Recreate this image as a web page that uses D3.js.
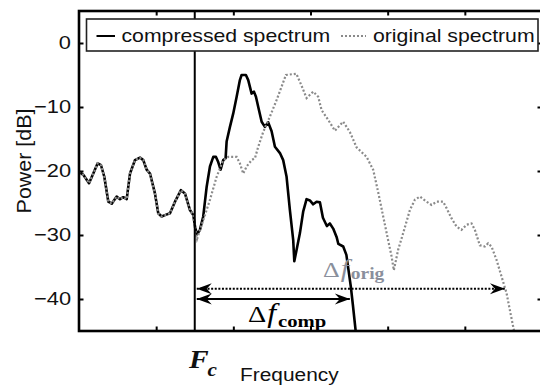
<!DOCTYPE html>
<html>
<head>
<meta charset="utf-8">
<script src="https://cdn.jsdelivr.net/npm/d3@7"></script>
<style>
  html, body { margin: 0; padding: 0; background: #fff; }
  svg { display: block; }
</style>
</head>
<body>
<svg id="chart" width="540" height="385"></svg>
<script>
// Spectrum below the carrier: identical for both spectra
const lowBandFreq  = [0.000, 0.056, 0.130, 0.185, 0.242, 0.285, 0.328, 0.380, 0.424, 0.488, 0.531, 0.574, 0.618,
                      0.661, 0.725, 0.790, 0.833, 0.877, 0.920, 0.984, 1.027, 1.071, 1.114, 1.179, 1.244, 1.321,
                      1.373, 1.438, 1.481];
const lowBandPower = [-20.1, -20.6, -21.9, -20.4, -18.8, -19.1, -20.9, -24.8, -25.1, -24.0, -24.4, -24.1, -24.4,
                      -20.4, -18.3, -17.9, -18.3, -19.8, -20.4, -23.5, -26.6, -27.1, -26.9, -26.6, -24.8, -23.0,
                      -23.5, -26.1, -26.9];

// Compressed spectrum above the carrier
const compFreq  = [1.505, 1.530, 1.567, 1.610, 1.654, 1.697, 1.740, 1.775, 1.804, 1.835, 1.869, 1.900, 1.913,
                   1.956, 1.999, 2.043, 2.085, 2.107, 2.163, 2.193, 2.237, 2.267, 2.293, 2.323, 2.367, 2.409,
                   2.452, 2.496, 2.539, 2.604, 2.646, 2.690, 2.733, 2.776, 2.790, 2.820, 2.863, 2.906, 2.949,
                   2.992, 3.035, 3.079, 3.122, 3.161, 3.212, 3.251, 3.294, 3.338, 3.361, 3.424, 3.465, 3.523,
                   3.549, 3.588];
const compPower = [-28.8, -29.9, -29.2, -27.1, -22.5, -19.3, -17.8, -17.8, -18.6, -19.8, -18.3, -18.0, -15.4,
                   -13.1, -11.0, -8.4, -5.8, -5.0, -5.0, -5.8, -7.9, -7.6, -8.4, -10.0, -12.3, -13.1,
                   -12.4, -13.8, -16.2, -17.2, -18.3, -20.9, -26.1, -30.8, -34.1, -32.3, -29.7, -26.3, -24.4,
                   -24.6, -25.2, -24.8, -24.9, -27.3, -28.6, -28.2, -29.0, -30.3, -31.4, -31.8, -33.1, -38.1,
                   -40.9, -45.3];

// Original spectrum above the carrier
const origFreq  = [1.505, 1.530, 1.610, 1.697, 1.784, 1.869, 1.934, 2.043, 2.085, 2.128, 2.172, 2.237, 2.280,
                   2.323, 2.387, 2.474, 2.561, 2.626, 2.681, 2.817, 2.885, 2.949, 3.035, 3.100, 3.144, 3.229,
                   3.316, 3.424, 3.510, 3.597, 3.727, 3.812, 3.877, 3.942, 4.006, 4.050, 4.080, 4.136, 4.201,
                   4.288, 4.352, 4.417, 4.504, 4.569, 4.634, 4.719, 4.763, 4.828, 4.893, 4.957, 5.022, 5.087,
                   5.130, 5.194, 5.259, 5.302, 5.346, 5.411, 5.476, 5.541, 5.583, 5.626, 5.648];
const origPower = [-29.0, -30.6, -27.7, -24.5, -20.9, -18.3, -17.8, -17.8, -18.8, -20.4, -19.3, -18.3, -18.0,
                   -16.2, -13.9, -11.5, -8.9, -6.8, -5.0, -4.8, -6.7, -8.6, -7.6, -8.4, -10.5, -12.0,
                   -13.7, -12.3, -13.9, -16.3, -17.8, -19.8, -23.3, -27.1, -30.8, -33.3, -35.5, -32.3, -29.7,
                   -26.1, -24.5, -24.0, -24.8, -25.3, -24.8, -24.8, -25.8, -27.4, -28.7, -29.2, -28.4, -28.2,
                   -29.2, -31.6, -31.8, -31.3, -31.8, -33.9, -36.5, -39.1, -41.7, -44.3, -45.6];

const yTickValues = [-40, -30, -20, -10, 0];
const xTickValues = [1, 2, 3, 4, 5];
const seriesNames = ["compressed spectrum", "original spectrum"];

// Carrier frequency and bandwidth markers
const carrierFreq = 1.5;
const bandEdges   = [3.51, 5.52];   // compressed, original
const bandLevels  = [-40, -38.4];   // dB level of each bandwidth arrow

const svg = d3.select("#chart");
const W = 540, H = 385;
const plotLeft = 79, plotRight = 542, plotTop = 11, plotBottom = 331;

const x = d3.scaleLinear().domain([0, 6]).range([plotLeft, plotRight]);
const y = d3.scaleLinear().domain([-45, 5]).range([plotBottom, plotTop]);

const sansFont = "'Liberation Sans', Arial, sans-serif";
const serifFont = "'Liberation Serif', 'Times New Roman', serif";
const stretch = 1.18;

svg.append("rect").attr("width", W).attr("height", H).attr("fill", "#fff");

const defs = svg.append("defs");
defs.append("clipPath").attr("id", "plotClip")
  .append("rect").attr("x", plotLeft).attr("y", plotTop)
  .attr("width", plotRight - plotLeft).attr("height", plotBottom - plotTop);

// barbed arrow head, tip at the marker origin
defs.append("marker")
  .attr("id", "barb")
  .attr("viewBox", "-16 -7 18 14")
  .attr("refX", 0).attr("refY", 0)
  .attr("markerWidth", 18).attr("markerHeight", 14)
  .attr("markerUnits", "userSpaceOnUse")
  .attr("orient", "auto-start-reverse")
  .append("path")
  .attr("d", "M0,0 L-15,-5.5 L-10,0 L-15,5.5 Z")
  .attr("fill", "#000");

const toPoints = (fs, ps) => fs.map((f, i) => [f, ps[i]]);
const low = toPoints(lowBandFreq, lowBandPower);
const compressed = low.concat(toPoints(compFreq, compPower));
const original = low.concat(toPoints(origFreq, origPower));

const line = d3.line().x(d => x(d[0])).y(d => y(d[1]));

const plot = svg.append("g").attr("clip-path", "url(#plotClip)");

plot.append("path").datum(compressed)
  .attr("d", line).attr("fill", "none")
  .attr("stroke", "#000").attr("stroke-width", 2.6)
  .attr("stroke-linejoin", "round");

plot.append("path").datum(original)
  .attr("d", line).attr("fill", "none")
  .attr("stroke", "#8a8a8a").attr("stroke-width", 2.2)
  .attr("stroke-dasharray", "2,2");

// carrier line
svg.append("line")
  .attr("x1", x(carrierFreq)).attr("x2", x(carrierFreq))
  .attr("y1", plotTop).attr("y2", plotBottom)
  .attr("stroke", "#000").attr("stroke-width", 2);

// bandwidth arrows
svg.append("line")
  .attr("x1", x(carrierFreq) + 2).attr("x2", x(bandEdges[1]))
  .attr("y1", y(bandLevels[1])).attr("y2", y(bandLevels[1]))
  .attr("stroke", "#000").attr("stroke-width", 2)
  .attr("stroke-dasharray", "2,1.6")
  .attr("marker-start", "url(#barb)").attr("marker-end", "url(#barb)");

svg.append("line")
  .attr("x1", x(carrierFreq) + 2).attr("x2", x(bandEdges[0]))
  .attr("y1", y(bandLevels[0])).attr("y2", y(bandLevels[0]))
  .attr("stroke", "#000").attr("stroke-width", 2.2)
  .attr("marker-start", "url(#barb)").attr("marker-end", "url(#barb)");

// axes with inward ticks
const tickLen = 4.5;
const yAxisL = svg.append("g").attr("transform", `translate(${plotLeft},0)`)
  .call(d3.axisLeft(y).tickValues(yTickValues).tickSizeInner(-tickLen).tickSizeOuter(0).tickPadding(8));
svg.append("g").attr("transform", `translate(${plotRight},0)`)
  .call(d3.axisRight(y).tickValues(yTickValues).tickSizeInner(-tickLen).tickSizeOuter(0).tickFormat(""));
svg.append("g").attr("transform", `translate(0,${plotTop})`)
  .call(d3.axisTop(x).tickValues(xTickValues).tickSizeInner(-tickLen).tickSizeOuter(0).tickFormat(""));
svg.append("g").attr("transform", `translate(0,${plotBottom})`)
  .call(d3.axisBottom(x).tickValues(xTickValues).tickSizeInner(-tickLen).tickSizeOuter(0).tickFormat(""));

svg.selectAll(".domain").remove();
svg.selectAll(".tick line").attr("stroke", "#000").attr("stroke-width", 2);

yAxisL.selectAll(".tick text")
  .attr("x", -8 / stretch)
  .attr("transform", `scale(${stretch},1)`)
  .attr("font-family", sansFont)
  .attr("font-size", 18.5)
  .attr("fill", "#111");

// plot frame
svg.append("rect")
  .attr("x", plotLeft).attr("y", plotTop)
  .attr("width", plotRight - plotLeft).attr("height", plotBottom - plotTop)
  .attr("fill", "none").attr("stroke", "#000").attr("stroke-width", 2.6);

// legend
const legend = svg.append("g");
legend.append("rect")
  .attr("x", 86.5).attr("y", 19).attr("width", 451.5).attr("height", 32)
  .attr("fill", "#fff").attr("stroke", "#222").attr("stroke-width", 1.6);
legend.append("line")
  .attr("x1", 96.5).attr("x2", 115).attr("y1", 36).attr("y2", 36)
  .attr("stroke", "#000").attr("stroke-width", 2);
legend.append("line")
  .attr("x1", 341).attr("x2", 366).attr("y1", 36).attr("y2", 36)
  .attr("stroke", "#8a8a8a").attr("stroke-width", 2).attr("stroke-dasharray", "2,2");
[[121.5, seriesNames[0]], [373, seriesNames[1]]].forEach(([lx, name]) => {
  legend.append("text")
    .attr("transform", `translate(${lx},42) scale(${stretch},1)`)
    .attr("font-family", sansFont).attr("font-size", 18)
    .attr("fill", "#111")
    .text(name);
});

// axis titles
svg.append("text")
  .attr("transform", `translate(31,161) rotate(-90) scale(1.1,1)`)
  .attr("text-anchor", "middle")
  .attr("font-family", sansFont).attr("font-size", 19.5)
  .attr("fill", "#111")
  .text("Power [dB]");

svg.append("text")
  .attr("transform", `translate(240,380.5) scale(${stretch},1)`)
  .attr("font-family", sansFont).attr("font-size", 17.7)
  .attr("fill", "#111")
  .text("Frequency");

// carrier label F_c
const fc = svg.append("text")
  .attr("transform", `translate(189,368) scale(${stretch},1)`)
  .attr("font-family", serifFont).attr("font-weight", "bold").attr("font-style", "italic")
  .attr("fill", "#111");
fc.append("tspan").attr("font-size", 25).text("F");
fc.append("tspan").attr("font-size", 18).attr("dx", -1).attr("dy", 8).text("c");

// bandwidth labels
function deltaLabel(px, py, color, sizes, subShift, sub) {
  const t = svg.append("text")
    .attr("transform", `translate(${px},${py}) scale(${stretch},1)`)
    .attr("font-family", serifFont).attr("fill", color);
  t.append("tspan").attr("font-size", sizes[0]).text("Δ");
  t.append("tspan").attr("font-size", sizes[1]).attr("font-style", "italic").attr("dx", 1).text("f");
  t.append("tspan").attr("font-size", sizes[2]).attr("font-weight", "bold")
    .attr("dx", 1.5).attr("dy", subShift).text(sub);
}
deltaLabel(323, 276.5, "#8a8f9c", [22, 25, 16.5], 2, "orig");
deltaLabel(248, 321.5, "#000", [24, 27, 17.5], 5, "comp");
</script>
</body>
</html>
